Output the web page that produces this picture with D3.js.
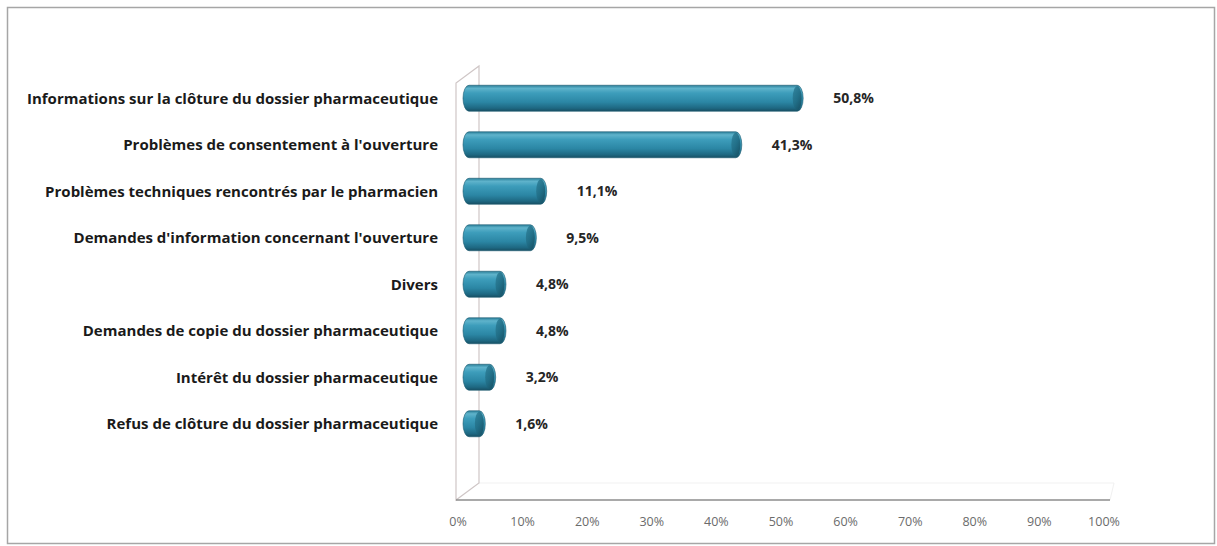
<!DOCTYPE html>
<html>
<head>
<meta charset="utf-8">
<script src="https://cdn.jsdelivr.net/npm/d3@7"></script>
<style>
  html, body { margin: 0; padding: 0; background: #fff; }
  svg { display: block; }
</style>
</head>
<body>
<svg id="chart" width="1217" height="546"></svg>
<script>
// Motifs d'appel concernant le dossier pharmaceutique (part des appels, %)
const categories = [
  "Informations sur la clôture du dossier pharmaceutique",
  "Problèmes de consentement à l'ouverture",
  "Problèmes techniques rencontrés par le pharmacien",
  "Demandes d'information concernant l'ouverture",
  "Divers",
  "Demandes de copie du dossier pharmaceutique",
  "Intérêt du dossier pharmaceutique",
  "Refus de clôture du dossier pharmaceutique"
];
const values = [50.8, 41.3, 11.1, 9.5, 4.8, 4.8, 3.2, 1.6];
const valueLabels = ["50,8%", "41,3%", "11,1%", "9,5%", "4,8%", "4,8%", "3,2%", "1,6%"];
const tickValues = [0, 10, 20, 30, 40, 50, 60, 70, 80, 90, 100];
const tickLabels = ["0%", "10%", "20%", "30%", "40%", "50%", "60%", "70%", "80%", "90%", "100%"];

const svg = d3.select("#chart");
const font = "'Open Sans', 'Liberation Sans', Arial, sans-serif";

// Cadre extérieur
svg.append("rect")
  .attr("x", 7.5).attr("y", 7.5).attr("width", 1207).attr("height", 536)
  .attr("fill", "#fff").attr("stroke", "#a6a6a6").attr("stroke-width", 1.5);

// Échelles : axe avant, barres à mi-profondeur
const xAxis = d3.scaleLinear().domain([0, 100]).range([456, 1102]);
const xBar = d3.scaleLinear().domain([0, 100]).range([469, 1115]);
const y = d3.scalePoint().domain(categories).range([75, 447]).padding(0.5);
const barH = 26;
const depth = { dx: 23, dy: -17 };

const floorY = 500, wallTop = 83;

// Sol (arête arrière très claire)
svg.append("path")
  .attr("d", `M${xAxis(0) + depth.dx},${floorY + depth.dy} L${xAxis(100) + 12},${floorY + depth.dy} L${xAxis(100) + 8},${floorY}`)
  .attr("fill", "none").attr("stroke", "#f1f1f1").attr("stroke-width", 1);

// Paroi latérale (gauche) en perspective
svg.append("path")
  .attr("d", `M${xAxis(0)},${floorY} L${xAxis(0)},${wallTop} L${xAxis(0) + depth.dx},${wallTop + depth.dy} L${xAxis(0) + depth.dx},${floorY + depth.dy} Z`)
  .attr("fill", "none").attr("stroke", "#cfc6c6").attr("stroke-width", 1.2);

// Arête avant du sol
svg.append("line")
  .attr("x1", xAxis(0)).attr("x2", xAxis(100) + 8)
  .attr("y1", floorY).attr("y2", floorY)
  .attr("stroke", "#8c8c8c").attr("stroke-width", 1.5);

// Graduations
svg.append("g").selectAll("text")
  .data(tickValues)
  .join("text")
  .attr("x", d => xAxis(d) + 2)
  .attr("y", 526)
  .attr("text-anchor", "middle")
  .attr("font-family", font)
  .attr("font-size", 12.5)
  .attr("fill", "#6b6b6b")
  .text((d, i) => tickLabels[i]);

// Dégradés des cylindres
const defs = svg.append("defs");
const body = defs.append("linearGradient").attr("id", "cylBody").attr("x1", 0).attr("x2", 0).attr("y1", 0).attr("y2", 1);
[[0, "#2a7f99"], [0.12, "#5fb3cb"], [0.3, "#3d9dbb"], [0.65, "#2b86a4"], [0.88, "#1e6882"], [1, "#174f63"]]
  .forEach(([o, c]) => body.append("stop").attr("offset", o).attr("stop-color", c));
const cap = defs.append("linearGradient").attr("id", "cylCap").attr("x1", 0).attr("x2", 1).attr("y1", 0).attr("y2", 1);
[[0, "#2d7f98"], [0.5, "#1f6a82"], [1, "#15495b"]]
  .forEach(([o, c]) => cap.append("stop").attr("offset", o).attr("stop-color", c));

// Barres cylindriques
const rx = 6;
const bars = svg.append("g").selectAll("g")
  .data(categories.map((c, i) => ({ c, v: values[i], label: valueLabels[i] })))
  .join("g");

bars.append("path")
  .attr("d", d => {
    const x0 = xBar(0), x1 = xBar(d.v);
    const t = y(d.c) - barH / 2, b = y(d.c) + barH / 2;
    return `M${x0},${t} L${x1},${t} A${rx},${barH / 2} 0 0 1 ${x1},${b} L${x0},${b} A${rx},${barH / 2} 0 0 1 ${x0},${t} Z`;
  })
  .attr("fill", "url(#cylBody)")
  .attr("stroke", "#1b5b70").attr("stroke-width", 0.6);

bars.append("ellipse")
  .attr("cx", d => xBar(d.v))
  .attr("cy", d => y(d.c))
  .attr("rx", rx - 1.5)
  .attr("ry", barH / 2 - 1)
  .attr("fill", "url(#cylCap)")
  .attr("opacity", 0.85);

// Étiquettes de valeur
bars.append("text")
  .attr("x", d => xBar(d.v) + rx + 30)
  .attr("y", d => y(d.c))
  .attr("dy", "0.35em")
  .attr("font-family", font)
  .attr("font-size", 14)
  .attr("font-weight", "bold")
  .attr("fill", "#262626")
  .text(d => d.label);

// Libellés des catégories
svg.append("g").selectAll("text")
  .data(categories)
  .join("text")
  .attr("x", 438)
  .attr("y", d => y(d))
  .attr("dy", "0.35em")
  .attr("text-anchor", "end")
  .attr("font-family", font)
  .attr("font-size", 15)
  .attr("font-weight", "bold")
  .attr("fill", "#1a1a1a")
  .text(d => d);
</script>
</body>
</html>
